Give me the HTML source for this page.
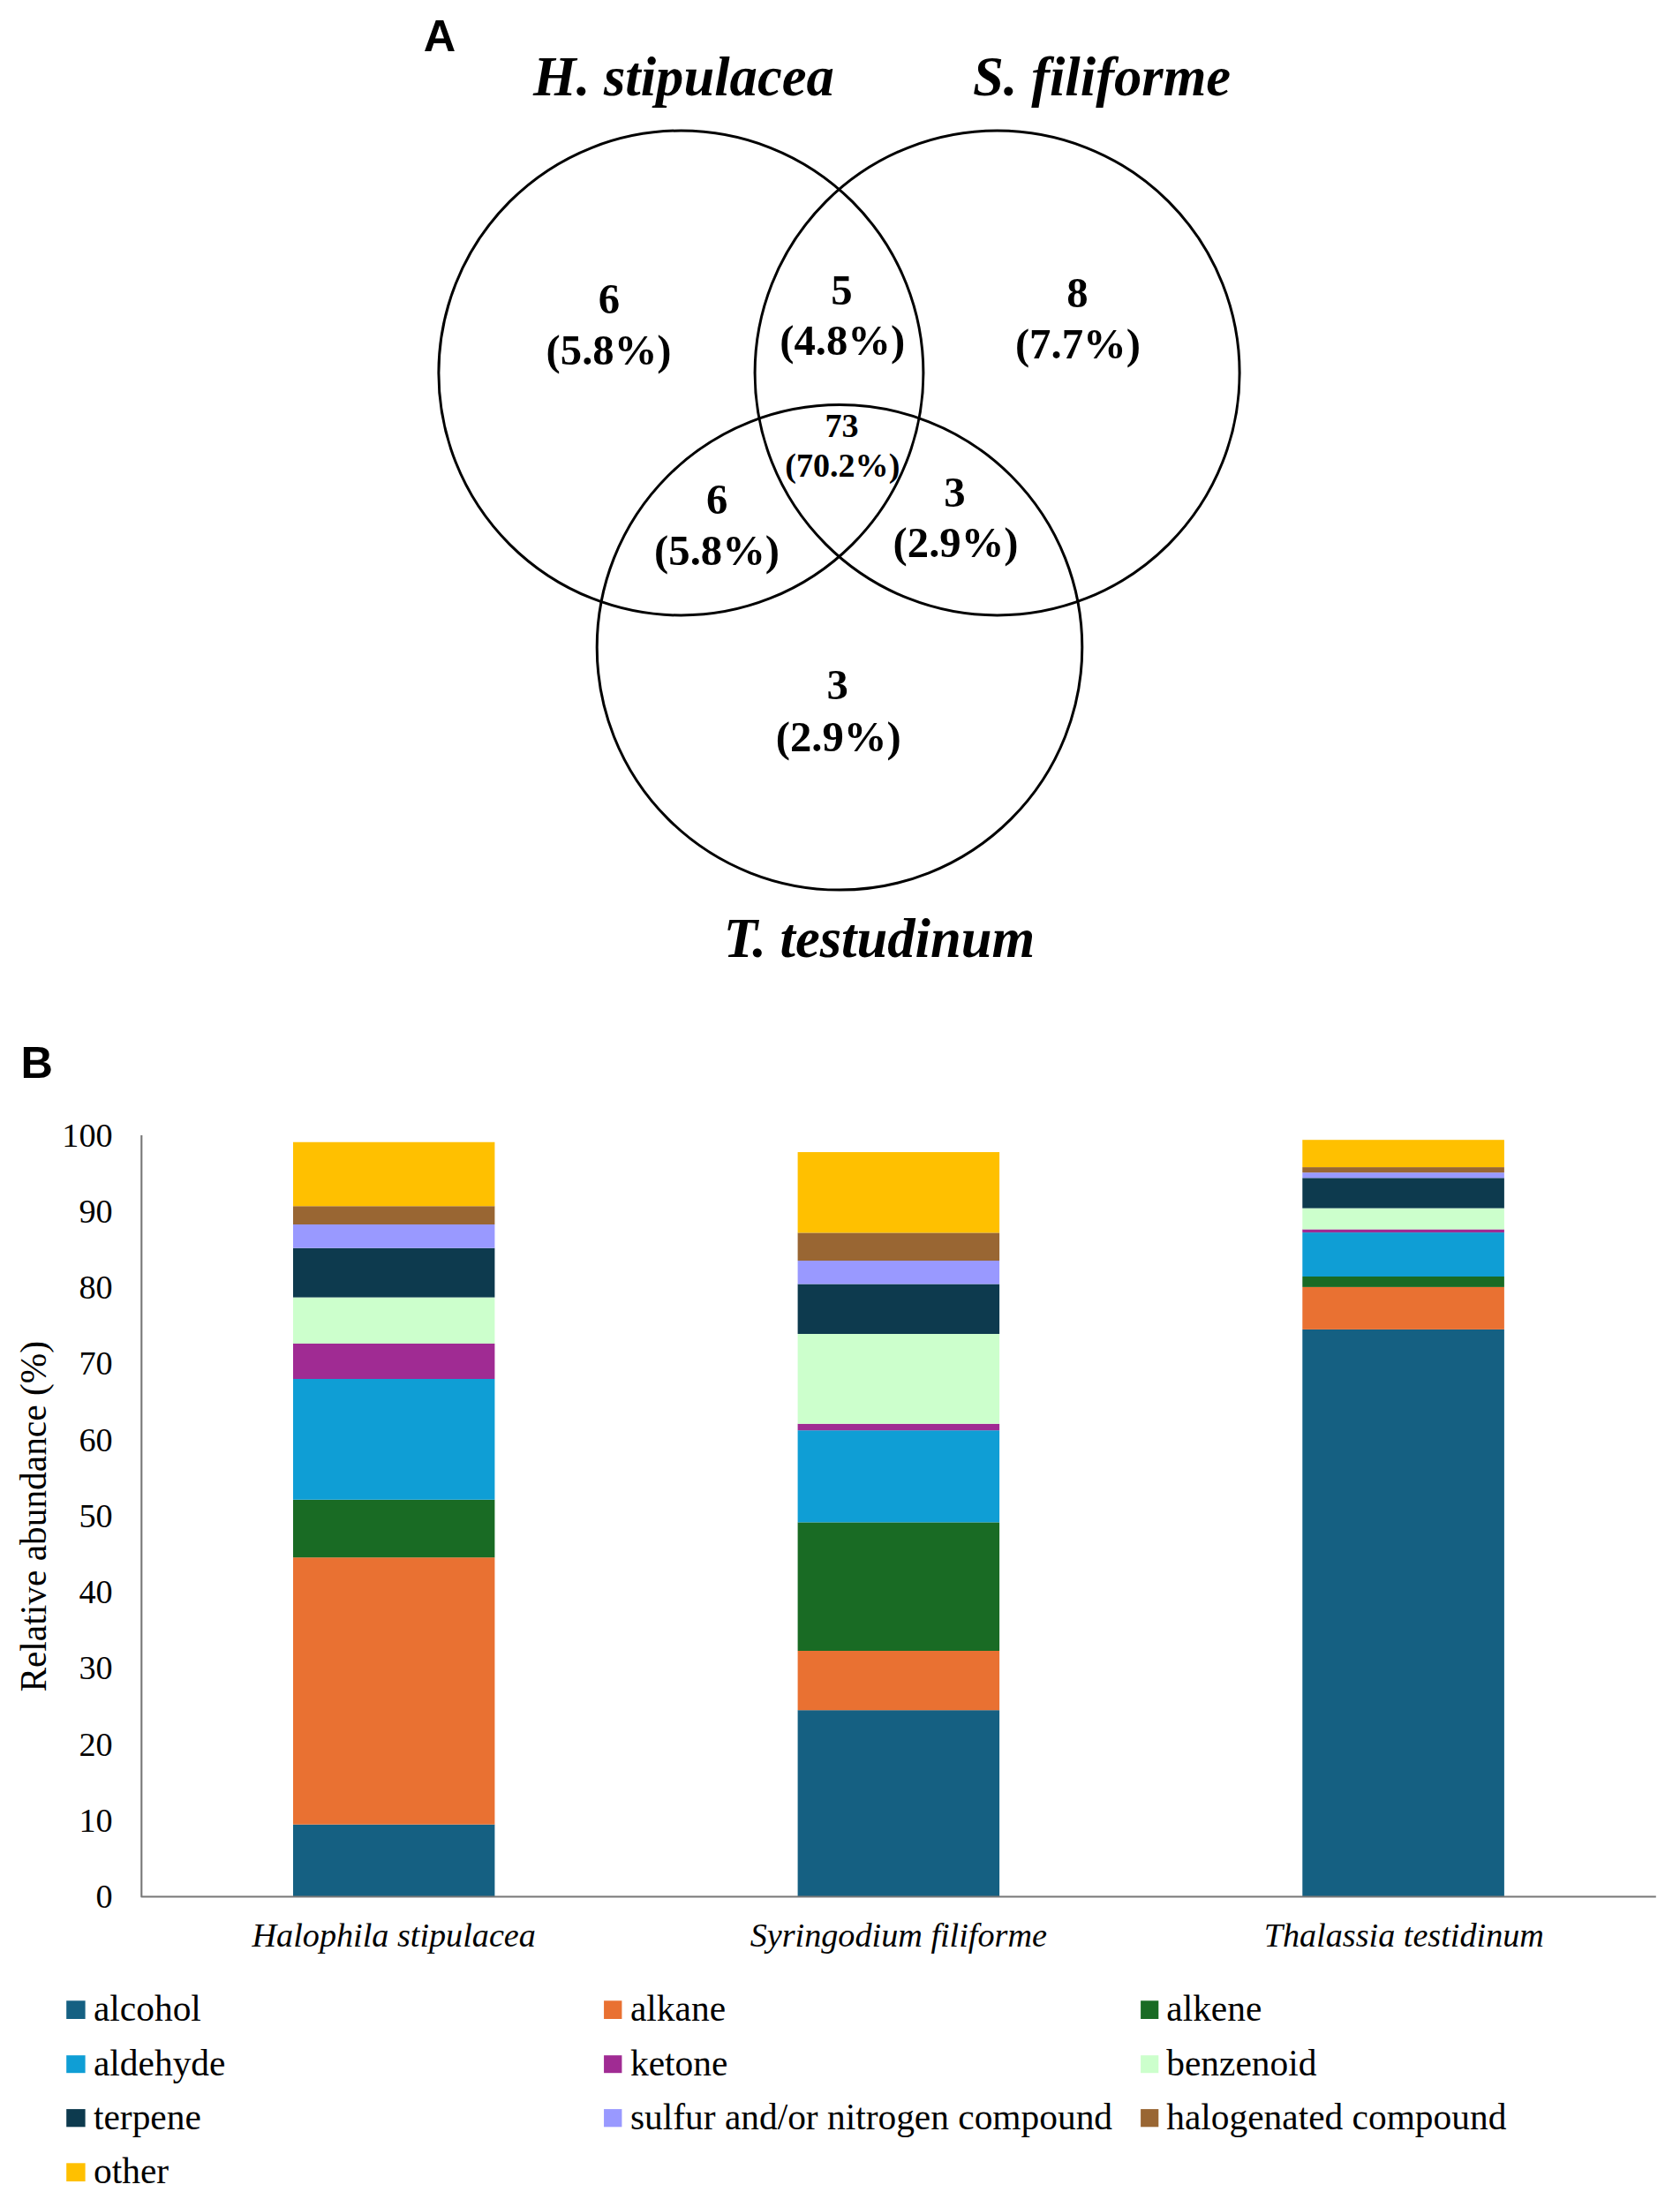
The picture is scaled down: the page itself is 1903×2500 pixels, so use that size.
<!DOCTYPE html>
<html lang="en"><head><meta charset="utf-8"><title>Figure</title>
<style>
html,body{margin:0;padding:0;background:#fff}
svg{display:block}
.ss{font-family:"Liberation Sans",Arial,sans-serif;font-weight:700}
.sf{font-family:"Liberation Serif","Times New Roman",serif}
.b{font-weight:700}
.i{font-style:italic}
</style></head><body>
<svg width="1903" height="2500" viewBox="0 0 1903 2500">
<rect width="1903" height="2500" fill="#fff"/>
<text class="ss" x="479.7" y="58" font-size="50.5">A</text>
<text class="ss" x="23.6" y="1221.1" font-size="50.5">B</text>
<g fill="none" stroke="#000" stroke-width="3">
<circle cx="771.4" cy="422.5" r="274.5"/>
<circle cx="1129.6" cy="422.5" r="274.5"/>
<circle cx="951" cy="733.3" r="274.8"/>
</g>
<g class="sf b i" font-size="62.6" text-anchor="middle">
<text x="774.4" y="108">H. stipulacea</text>
<text x="1248.1" y="108">S. filiforme</text>
<text x="996" y="1084">T. testudinum</text>
</g>
<g class="sf b" font-size="48.7" text-anchor="middle">
<text x="689.8" y="354.9">6</text>
<text x="689.6" y="412.9">(5.8%)</text>
<text x="953.5" y="344.7">5</text>
<text x="954.3" y="402.4">(4.8%)</text>
<text x="1220.4" y="348.2">8</text>
<text x="1220.9" y="406.2">(7.7%)</text>
<text x="812.1" y="581.6">6</text>
<text x="812.1" y="640.0">(5.8%)</text>
<text x="1081.4" y="573.6">3</text>
<text x="1082.6" y="631.4">(2.9%)</text>
<text x="948.7" y="792.3">3</text>
<text x="949.7" y="850.5">(2.9%)</text>
</g>
<g class="sf b" font-size="38.1" text-anchor="middle">
<text x="953.5" y="494.8">73</text><text x="954.3" y="540.1">(70.2%)</text>
</g>
<g>
<rect x="332.0" y="2066.70" width="228.4" height="81.60" fill="#156082"/>
<rect x="332.0" y="1764.20" width="228.4" height="302.50" fill="#E97132"/>
<rect x="332.0" y="1698.75" width="228.4" height="65.45" fill="#196B24"/>
<rect x="332.0" y="1562.00" width="228.4" height="136.75" fill="#0F9ED5"/>
<rect x="332.0" y="1522.00" width="228.4" height="40.00" fill="#A02B93"/>
<rect x="332.0" y="1469.60" width="228.4" height="52.40" fill="#CCFFCC"/>
<rect x="332.0" y="1413.75" width="228.4" height="55.85" fill="#0D3A4E"/>
<rect x="332.0" y="1387.00" width="228.4" height="26.75" fill="#9999FF"/>
<rect x="332.0" y="1366.25" width="228.4" height="20.75" fill="#996633"/>
<rect x="332.0" y="1293.75" width="228.4" height="72.50" fill="#FFC000"/>
<rect x="903.6" y="1937.20" width="228.5" height="211.10" fill="#156082"/>
<rect x="903.6" y="1870.00" width="228.5" height="67.20" fill="#E97132"/>
<rect x="903.6" y="1724.40" width="228.5" height="145.60" fill="#196B24"/>
<rect x="903.6" y="1620.20" width="228.5" height="104.20" fill="#0F9ED5"/>
<rect x="903.6" y="1612.80" width="228.5" height="7.40" fill="#A02B93"/>
<rect x="903.6" y="1511.00" width="228.5" height="101.80" fill="#CCFFCC"/>
<rect x="903.6" y="1454.50" width="228.5" height="56.50" fill="#0D3A4E"/>
<rect x="903.6" y="1428.00" width="228.5" height="26.50" fill="#9999FF"/>
<rect x="903.6" y="1396.40" width="228.5" height="31.60" fill="#996633"/>
<rect x="903.6" y="1305.06" width="228.5" height="91.34" fill="#FFC000"/>
<rect x="1475.3" y="1505.90" width="228.6" height="642.40" fill="#156082"/>
<rect x="1475.3" y="1457.90" width="228.6" height="48.00" fill="#E97132"/>
<rect x="1475.3" y="1446.00" width="228.6" height="11.90" fill="#196B24"/>
<rect x="1475.3" y="1396.10" width="228.6" height="49.90" fill="#0F9ED5"/>
<rect x="1475.3" y="1392.50" width="228.6" height="3.60" fill="#A02B93"/>
<rect x="1475.3" y="1368.60" width="228.6" height="23.90" fill="#CCFFCC"/>
<rect x="1475.3" y="1334.30" width="228.6" height="34.30" fill="#0D3A4E"/>
<rect x="1475.3" y="1328.20" width="228.6" height="6.10" fill="#9999FF"/>
<rect x="1475.3" y="1322.10" width="228.6" height="6.10" fill="#996633"/>
<rect x="1475.3" y="1291.20" width="228.6" height="30.90" fill="#FFC000"/>
</g>
<path d="M160.3 1286V2148.5H1875.8" fill="none" stroke="#777" stroke-width="2.1" stroke-linejoin="round"/>
<g class="sf" font-size="38.2" text-anchor="end">
<text x="127.6" y="2161.0">0</text>
<text x="127.6" y="2074.8">10</text>
<text x="127.6" y="1988.5">20</text>
<text x="127.6" y="1902.3">30</text>
<text x="127.6" y="1816.1">40</text>
<text x="127.6" y="1729.9">50</text>
<text x="127.6" y="1643.6">60</text>
<text x="127.6" y="1557.4">70</text>
<text x="127.6" y="1471.2">80</text>
<text x="127.6" y="1384.9">90</text>
<text x="127.6" y="1298.7">100</text>
</g>
<text class="sf" font-size="41.4" text-anchor="middle" transform="translate(51.5 1717.8) rotate(-90)">Relative abundance (%)</text>
<g class="sf i" font-size="38.2" text-anchor="middle">
<text x="446.2" y="2205">Halophila stipulacea</text>
<text x="1017.8" y="2205">Syringodium filiforme</text>
<text x="1590.3" y="2205">Thalassia testidinum</text>
</g>
<g class="sf" font-size="41.4">
<rect x="75.2" y="2266.3" width="21.4" height="20.7" fill="#156082"/><text x="106.0" y="2289.1">alcohol</text>
<rect x="684.07" y="2266.3" width="20.35" height="20.7" fill="#E97132"/><text x="714.0" y="2289.1">alkane</text>
<rect x="1292.1" y="2266.3" width="20.2" height="20.7" fill="#196B24"/><text x="1321.3" y="2289.1">alkene</text>
<rect x="75.2" y="2328.2" width="21.4" height="20.0" fill="#0F9ED5"/><text x="106.0" y="2350.5">aldehyde</text>
<rect x="684.07" y="2328.2" width="20.35" height="20.0" fill="#A02B93"/><text x="714.0" y="2350.5">ketone</text>
<rect x="1292.1" y="2328.2" width="20.2" height="20.0" fill="#CCFFCC"/><text x="1321.3" y="2350.5">benzenoid</text>
<rect x="75.2" y="2389.1" width="21.4" height="20.2" fill="#0D3A4E"/><text x="106.0" y="2411.9">terpene</text>
<rect x="684.07" y="2389.1" width="20.35" height="20.2" fill="#9999FF"/><text x="714.0" y="2411.9">sulfur and/or nitrogen compound</text>
<rect x="1292.1" y="2389.1" width="20.2" height="20.2" fill="#996633"/><text x="1321.3" y="2411.9">halogenated compound</text>
<rect x="75.2" y="2450.3" width="21.4" height="20.7" fill="#FFC000"/><text x="106.0" y="2473.3">other</text>
</g>
</svg></body></html>
